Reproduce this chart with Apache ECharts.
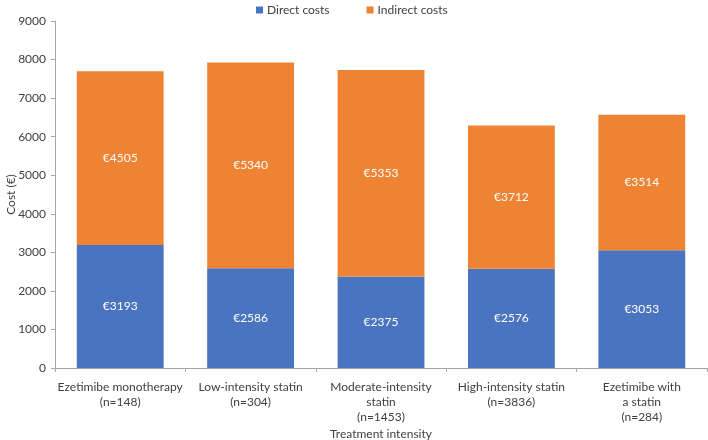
<!DOCTYPE html>
<html>
<head>
<meta charset="utf-8">
<script src="https://cdn.jsdelivr.net/npm/echarts@6/dist/echarts.min.js"></script>
<style>html,body{margin:0;padding:0;background:#fff}#c{width:708px;height:440px}</style>
</head>
<body>
<div id="c"></div>
<script>
const categories = [
  'Ezetimibe monotherapy\n(n=148)',
  'Low-intensity statin\n(n=304)',
  'Moderate-intensity\nstatin\n(n=1453)',
  'High-intensity statin\n(n=3836)',
  'Ezetimibe with\na statin\n(n=284)'
];
const directCosts = [3193, 2586, 2375, 2576, 3053];
const indirectCosts = [4505, 5340, 5353, 3712, 3514];
const yTicks = {min: 0, max: 9000, interval: 1000};

const font = 'Lato';
const textColor = '#404040';
const chart = echarts.init(document.getElementById('c'), null, {renderer: 'canvas'});
const labelCfg = {
  show: true, position: 'inside', color: '#fff', fontFamily: font, fontSize: 12,
  formatter: p => '€' + p.value
};
chart.setOption({
  animation: false,
  textStyle: {fontFamily: font},
  legend: {
    left: 251, top: -1, itemWidth: 7, itemHeight: 7, itemGap: 37, icon: 'rect',
    textStyle: {color: textColor, fontSize: 12, fontFamily: font, padding: [0,0,0,-1]},
    data: ['Direct costs', 'Indirect costs']
  },
  grid: {left: 55, right: 1, top: 21, bottom: 72, containLabel: false, outerBoundsMode: 'none'},
  xAxis: {
    type: 'category', data: categories,
    name: 'Treatment intensity', nameLocation: 'middle', nameGap: 60, nameMoveOverlap: false,
    nameTextStyle: {color: textColor, fontSize: 12, fontFamily: font},
    axisLine: {lineStyle: {color: '#a6a6a6'}},
    axisTick: {show: true, length: 4, lineStyle: {color: '#a6a6a6'}, alignWithLabel: false},
    axisLabel: {color: textColor, fontSize: 12, fontFamily: font, lineHeight: 15, margin: 12, interval: 0}
  },
  yAxis: {
    type: 'value', min: yTicks.min, max: yTicks.max, interval: yTicks.interval,
    name: 'Cost (€)', nameLocation: 'middle', nameGap: 38, nameRotate: 90, nameMoveOverlap: false,
    nameTextStyle: {color: textColor, fontSize: 12, fontFamily: font},
    axisLine: {show: true, lineStyle: {color: '#a6a6a6'}},
    axisTick: {show: true, length: 4, lineStyle: {color: '#a6a6a6'}},
    splitLine: {show: false},
    axisLabel: {color: textColor, fontSize: 12, fontFamily: font, margin: 9, formatter: v => String(v)}
  },
  series: [
    {name: 'Direct costs', type: 'bar', stack: 'total', data: directCosts,
     itemStyle: {color: '#4a74bf'}, barCategoryGap: '33.4%', label: labelCfg},
    {name: 'Indirect costs', type: 'bar', stack: 'total', data: indirectCosts,
     itemStyle: {color: '#ef8334'}, barCategoryGap: '33.4%', label: labelCfg}
  ]
});
</script>
</body>
</html>
